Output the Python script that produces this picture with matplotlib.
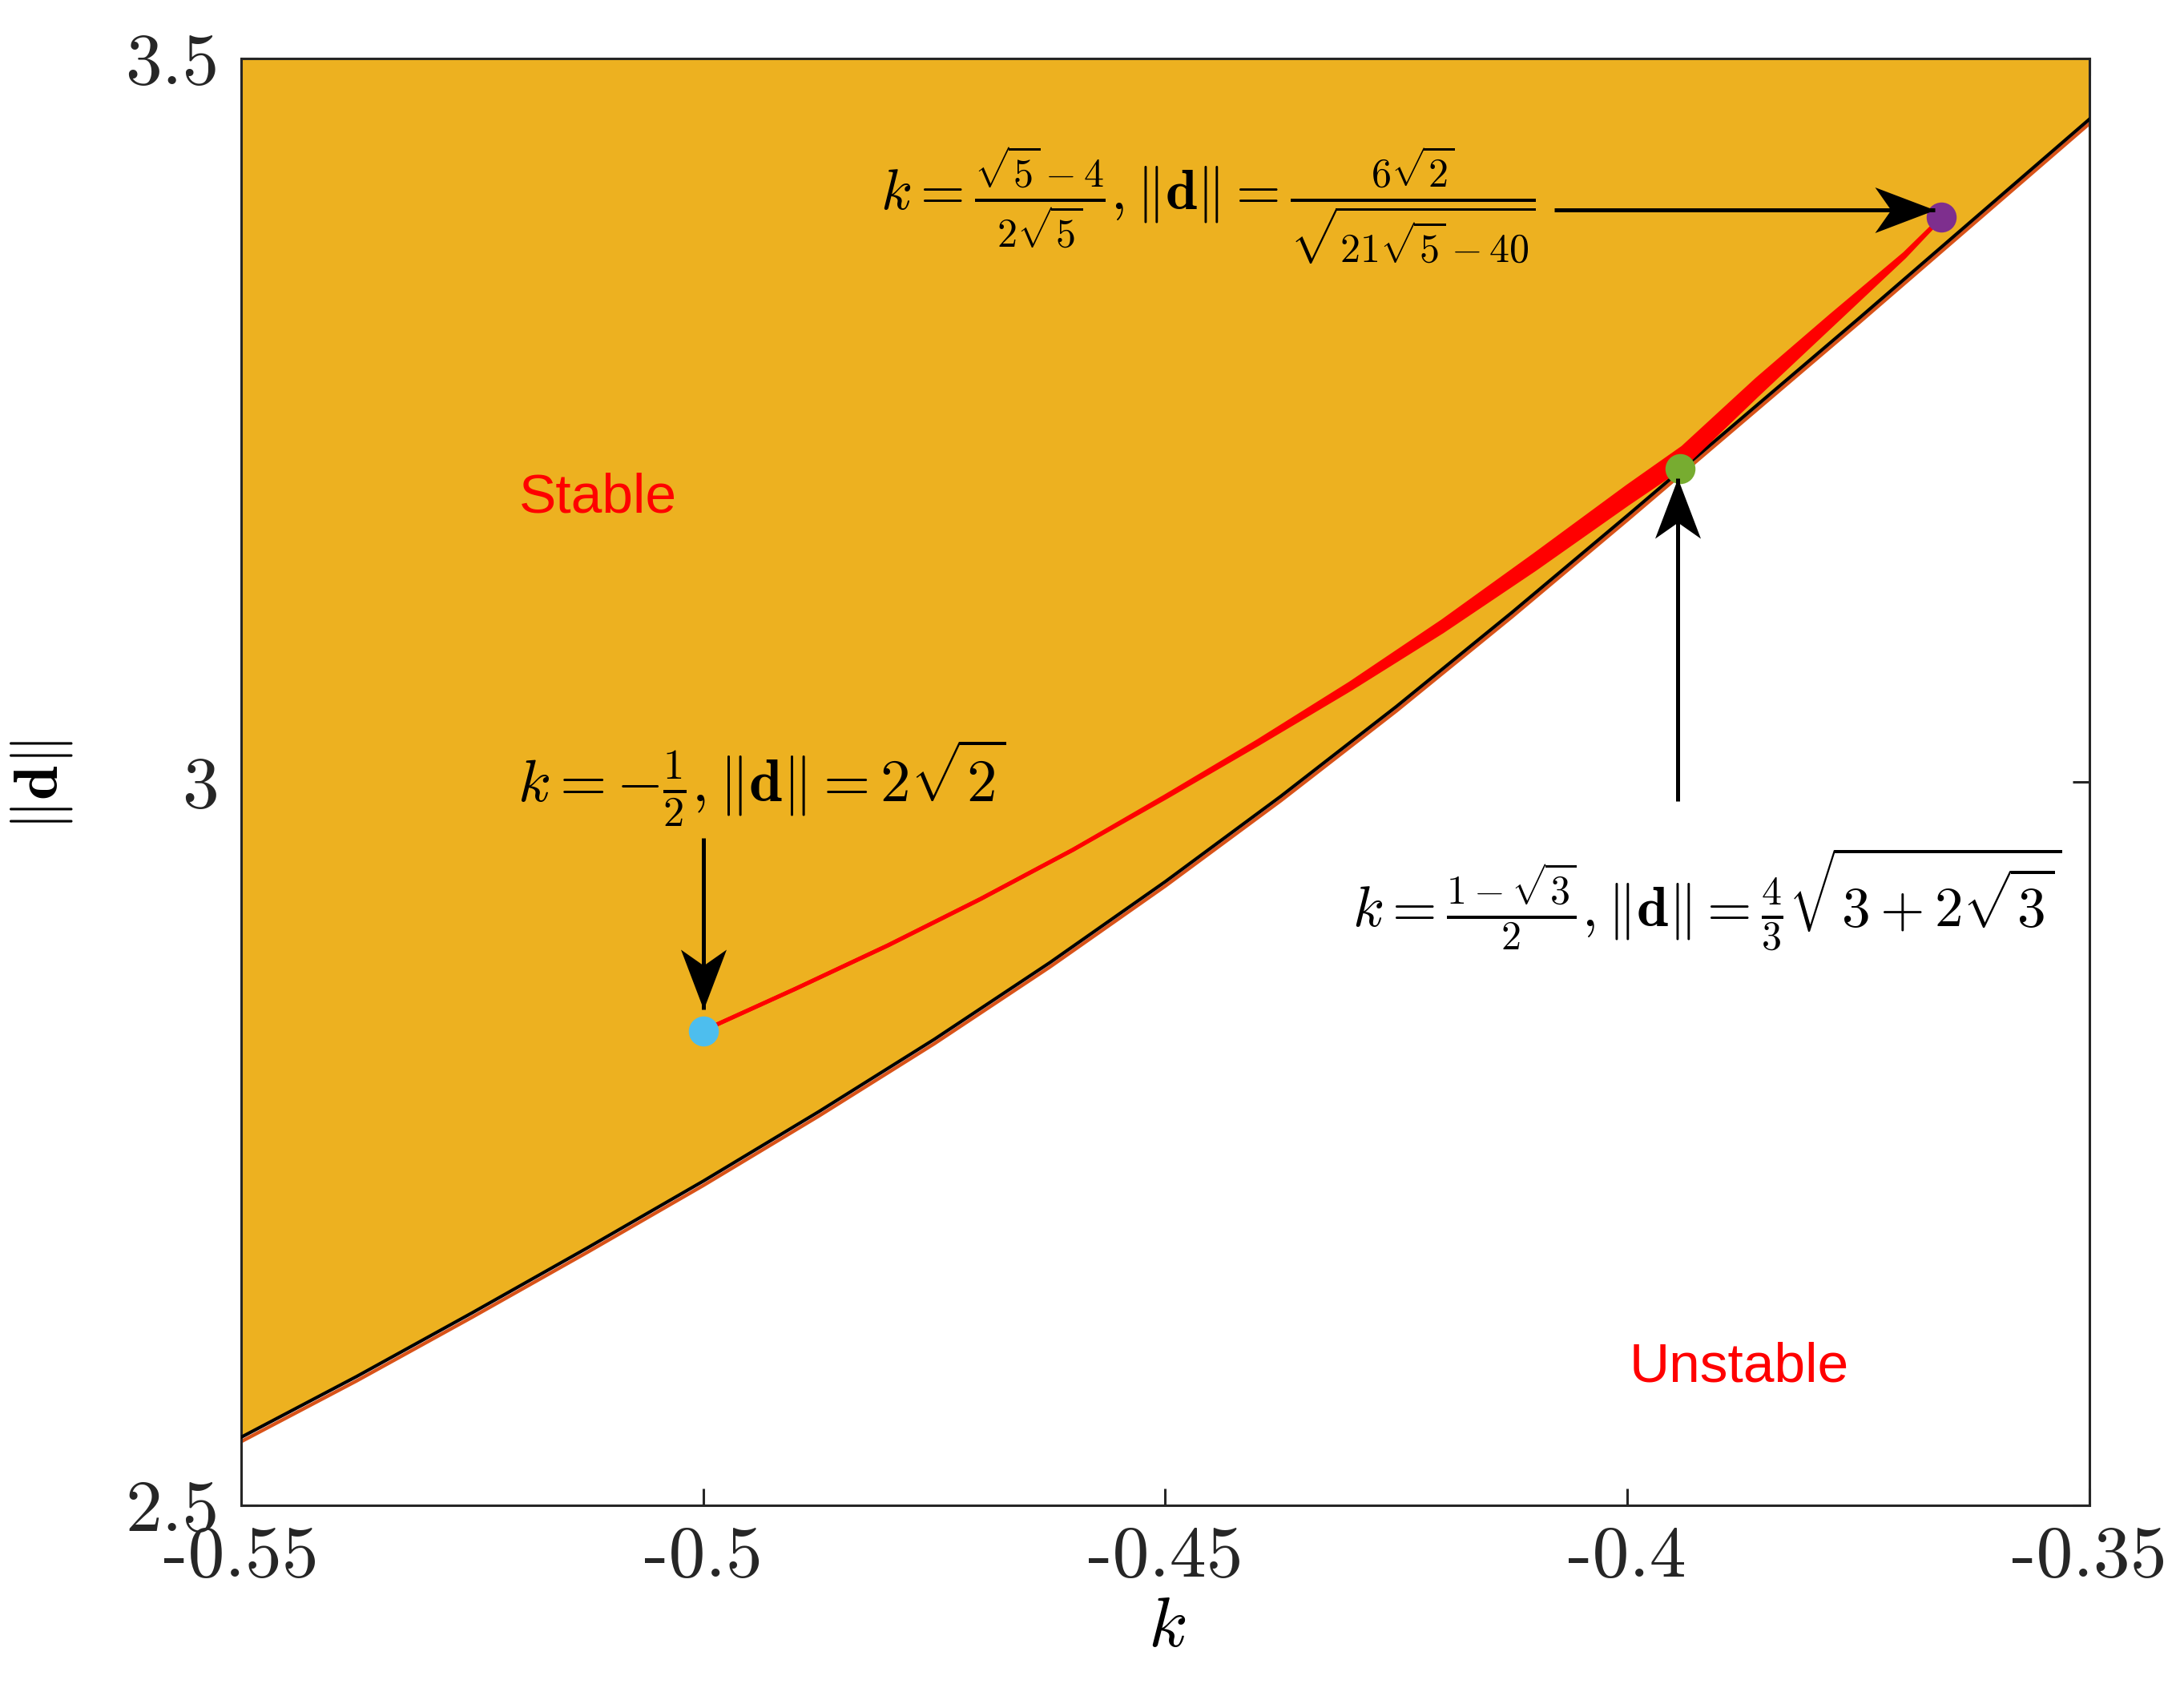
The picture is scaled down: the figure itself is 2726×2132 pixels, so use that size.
import matplotlib
matplotlib.use("Agg")
import matplotlib.pyplot as plt
from matplotlib.path import Path

plt.rcParams.update({
    "mathtext.fontset": "cm",
    "axes.unicode_minus": False,
})

# Stability boundary (black) and the orange curve just under it
k_grid = [-0.55, -0.5375, -0.525, -0.5125, -0.5, -0.4875, -0.475, -0.4625, -0.45,
          -0.4375, -0.425, -0.4125, -0.4, -0.3875, -0.375, -0.3625, -0.35]
d_black = [2.547, 2.589, 2.633, 2.678, 2.724, 2.772, 2.822, 2.875, 2.931,
           2.990, 3.052, 3.117, 3.184, 3.252, 3.320, 3.389, 3.458]
d_orange = [2.544, 2.586, 2.630, 2.675, 2.721, 2.769, 2.819, 2.872, 2.928,
            2.987, 3.049, 3.114, 3.181, 3.249, 3.317, 3.386, 3.455]

# Red curve (a thin line that widens into a band near the tangency point)
red_k = [-0.5, -0.49, -0.48, -0.47, -0.46, -0.45, -0.44, -0.43, -0.42, -0.41,
         -0.4, -0.394, -0.386, -0.378, -0.37, -0.366]
red_upper = [2.828, 2.857, 2.887, 2.919, 2.953, 2.990, 3.028, 3.068, 3.111, 3.157,
             3.204, 3.231, 3.278, 3.322, 3.365, 3.390]
red_lower = [2.828, 2.857, 2.887, 2.919, 2.953, 2.989, 3.026, 3.064, 3.104, 3.147,
             3.192, 3.218, 3.267, 3.315, 3.363, 3.390]

# Special points
pt_k = [-0.5, -0.3943, -0.366]
pt_d = [2.828, 3.2165, 3.3904]
pt_colors = ["#4DBEEE", "#77AC30", "#7E2F8E"]

x_ticks = [-0.55, -0.5, -0.45, -0.4, -0.35]
x_tick_labels = ["-0.55", "-0.5", "-0.45", "-0.4", "-0.35"]
y_ticks = [2.5, 3, 3.5]
y_tick_labels = ["2.5", "3", "3.5"]

fig = plt.figure(figsize=(13.63, 10.66), dpi=200)
ax = fig.add_axes([0.1104, 0.1187, 0.8463, 0.8471])
ax.set_axisbelow(True)

# Stable region fill
ax.fill_between(k_grid, d_black, 3.5, color="#EDB120", lw=0, zorder=1)
ax.plot(k_grid, d_orange, color="#D95319", lw=1.6, zorder=2)
ax.plot(k_grid, d_black, color="k", lw=1.5, zorder=3)

# Red curve / band
ax.fill_between(red_k, red_lower, red_upper, color="red", lw=0, zorder=4)
ax.plot(red_k, red_upper, color="red", lw=1.8, zorder=4)
ax.plot(red_k, red_lower, color="red", lw=1.8, zorder=4)

for k, d, c in zip(pt_k, pt_d, pt_colors):
    ax.plot(k, d, "o", color=c, ms=13.5, mec="none", zorder=5)


# MATLAB-like notched arrow heads, built as a marker with the tip at (0, 0)
def head(direction):
    pts = {"down": [(0, 0), (-28.5, 75), (0, 55), (28.5, 75)],
           "up": [(0, 0), (28.5, -75), (0, -55), (-28.5, -75)],
           "right": [(0, 0), (-75, 28.5), (-55, 0), (-75, -28.5)]}[direction]
    codes = [Path.MOVETO] + [Path.LINETO] * 3 + [Path.CLOSEPOLY]
    return Path(pts + [pts[0]], codes)


def arrow(tail, tip, direction):
    ax.plot([tail[0], tip[0]], [tail[1], tip[1]], color="k", lw=1.8,
            solid_capstyle="butt", zorder=6)
    ax.plot(tip[0], tip[1], marker=head(direction), ms=54, color="k",
            mec="none", zorder=6)


arrow((-0.5, 2.9612), (-0.5, 2.8427), "down")
arrow((-0.4079, 3.3951), (-0.3667, 3.3951), "right")
arrow((-0.3946, 2.9867), (-0.3946, 3.2099), "up")

# Labels on the points
ax.text(-0.4937, 2.999, r"$k=-\frac{1}{2},\|\mathbf{d}\|=2\sqrt{2}$",
        fontsize=27, ha="center", va="center", zorder=7)
ax.text(-0.4454, 3.3987,
        r"$k=\frac{\sqrt{5}-4}{2\sqrt{5}},\|\mathbf{d}\|=\frac{6\sqrt{2}}{\sqrt{21\sqrt{5}-40}}$",
        fontsize=25.7, ha="center", va="center", zorder=7)
ax.text(-0.3914, 2.9192,
        r"$k=\frac{1-\sqrt{3}}{2},\|\mathbf{d}\|=\frac{4}{3}\sqrt{3+2\sqrt{3}}$",
        fontsize=25.7, ha="center", va="center", zorder=7)

ax.text(-0.5114, 3.196, "Stable", color="red", fontsize=25,
        family="Liberation Sans", ha="center", va="center", zorder=7)
ax.text(-0.3879, 2.5955, "Unstable", color="red", fontsize=25,
        family="Liberation Sans", ha="center", va="center", zorder=7)

# Axes styling (MATLAB look)
ax.set_xlim(-0.55, -0.35)
ax.set_ylim(2.5, 3.5)
ax.set_xticks(x_ticks)
ax.set_yticks(y_ticks)
ax.set_xticklabels(x_tick_labels, family="cmr10", fontsize=33)
ax.set_yticklabels(y_tick_labels, family="cmr10", fontsize=33)
ax.tick_params(direction="in", length=7.5, width=1.1, colors="#262626",
               top=True, right=True, pad=10)
ax.tick_params(axis="x", pad=9)
for s in ax.spines.values():
    s.set_color("#262626")
    s.set_linewidth(1.1)

fig.text(0.5345, 0.0474, r"$k$", fontsize=32, ha="center", va="center")
fig.text(0.019, 0.540, r"$\|\mathbf{d}\|$", fontsize=28, rotation=90,
         ha="center", va="center")

fig.savefig("out.png", dpi=200, facecolor="white")
